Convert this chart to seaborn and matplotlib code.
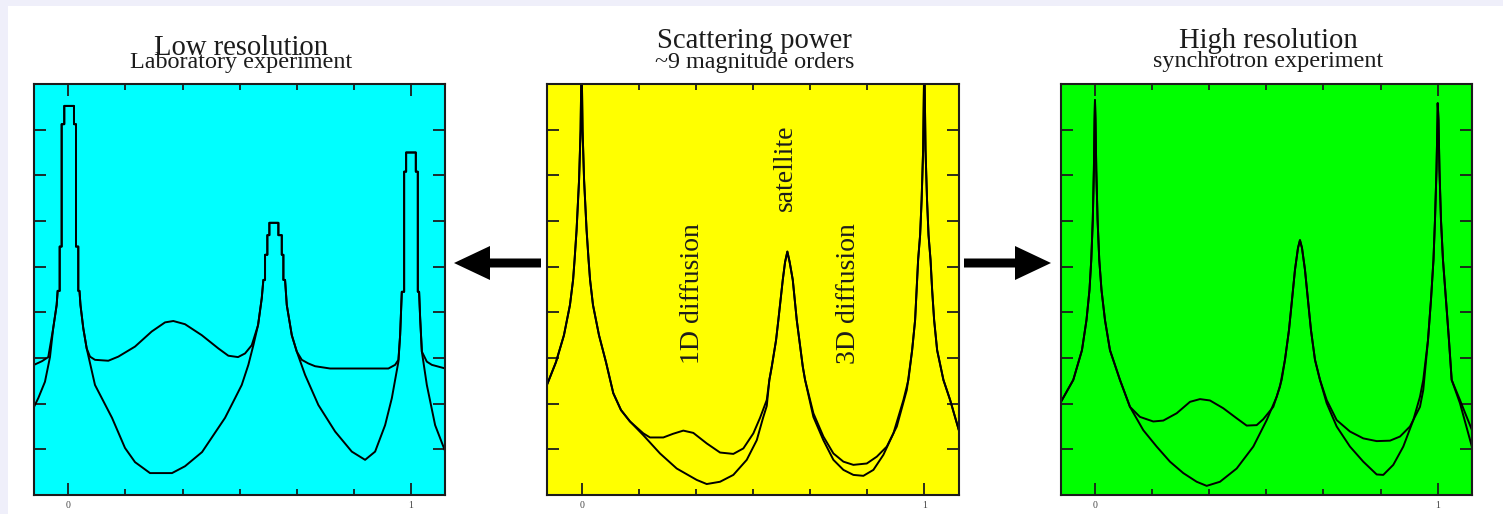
import numpy as np
import matplotlib
matplotlib.use("Agg")
import matplotlib.pyplot as plt
from matplotlib.patches import FancyArrow, Rectangle
import seaborn as sns

# ---------------------------------------------------------------------------
# Diffraction profiles along one reciprocal-lattice row (x in r.l.u.),
# intensity given as log10 (0 .. 9 decades shown).
# Each profile is assembled from shared Bragg / satellite segments and the
# diffuse (upper) or purely structural (lower) background in between.
# ---------------------------------------------------------------------------

# ---- Low resolution (laboratory) ----
lo_wing_left_up_x = [-0.100, -0.0768, -0.0584]
lo_wing_left_up_y = [2.85, 2.93, 3.02]
lo_wing_left_lo_x = [-0.100, -0.0876, -0.0680, -0.0534]
lo_wing_left_lo_y = [1.93, 2.12, 2.48, 3.02]
lo_bragg0_x = [-0.0438, -0.0339, -0.0310, -0.0251, -0.0251, -0.0193, -0.0193,
               -0.0117, -0.0117, 0.0166, 0.0166, 0.0225, 0.0225, 0.0292,
               0.0292, 0.0327, 0.0356, 0.0438, 0.0537]
lo_bragg0_y = [3.66, 4.16, 4.47, 4.47, 5.44, 5.44, 8.12, 8.12, 8.52, 8.52,
               8.12, 8.12, 5.44, 5.44, 4.47, 4.47, 4.16, 3.65, 3.21]
lo_diff1d_x = [0.0633, 0.0779, 0.1168, 0.1460, 0.1947, 0.2434, 0.2823, 0.3065,
               0.3406, 0.3894, 0.4378, 0.4670, 0.4953, 0.5158, 0.5353]
lo_diff1d_y = [3.03, 2.96, 2.94, 3.03, 3.25, 3.58, 3.78, 3.81, 3.74, 3.50,
               3.21, 3.05, 3.02, 3.10, 3.28]
lo_base_a_x = [0.0779, 0.1276, 0.1655, 0.1947, 0.2385, 0.3027, 0.3406, 0.3903,
               0.4574, 0.4866, 0.5061, 0.5254, 0.5400]
lo_base_a_y = [2.41, 1.69, 1.03, 0.72, 0.48, 0.48, 0.63, 0.94, 1.69, 2.12,
               2.41, 2.85, 3.28]
lo_sat_x = [0.5537, 0.5645, 0.5692, 0.5741, 0.5741, 0.5808, 0.5808, 0.5867,
            0.5867, 0.6130, 0.6130, 0.6229, 0.6229, 0.6276, 0.6276, 0.6325,
            0.6375, 0.6521, 0.6667]
lo_sat_y = [3.72, 4.31, 4.71, 4.71, 5.26, 5.26, 5.69, 5.69, 5.96, 5.96, 5.69,
            5.69, 5.26, 5.26, 4.71, 4.71, 4.16, 3.50, 3.14]
lo_diff3d_x = [0.6813, 0.7005, 0.7201, 0.7639, 0.9340, 0.9536, 0.9632]
lo_diff3d_y = [2.96, 2.88, 2.82, 2.77, 2.77, 2.85, 2.96]
lo_base_b_x = [0.6909, 0.7297, 0.7785, 0.8272, 0.8660, 0.8952, 0.9244, 0.9440,
               0.9632]
lo_base_b_y = [2.63, 1.97, 1.39, 0.95, 0.77, 0.95, 1.53, 2.12, 2.92]
lo_bragg1_x = [0.9682, 0.9731, 0.9799, 0.9799, 0.9857, 0.9857, 1.0140, 1.0140,
               1.0198, 1.0198, 1.0236, 1.0266, 1.0316]
lo_bragg1_y = [3.50, 4.45, 4.45, 7.08, 7.08, 7.50, 7.50, 7.08, 7.08, 4.45,
               4.45, 3.88, 3.14]
lo_wing_right_up_x = [1.0461, 1.0607, 1.100]
lo_wing_right_up_y = [2.92, 2.85, 2.77]
lo_wing_right_lo_x = [1.0461, 1.0703, 1.100]
lo_wing_right_lo_y = [2.41, 1.53, 0.95]

# ---- Scattering power (model) ----
mid_bragg0_x = [-0.100, -0.0747, -0.0514, -0.0339, -0.0248, -0.0204, -0.0146,
                -0.0073, -0.0029, 0.0, 0.0029, 0.0073, 0.0146, 0.0204, 0.0248,
                0.0333, 0.0508, 0.0712, 0.0925, 0.1150, 0.1413]
mid_bragg0_y = [2.43, 2.91, 3.50, 4.16, 4.71, 5.15, 5.80, 6.90, 7.99, 9.60,
                7.99, 6.90, 5.80, 5.15, 4.71, 4.16, 3.50, 2.91, 2.23, 1.86, 1.61]
mid_diff1d_x = [0.1801, 0.1996, 0.2385, 0.2668, 0.2968, 0.3260, 0.3651, 0.4040,
                0.4428, 0.4720, 0.5012, 0.5207, 0.5403]
mid_diff1d_y = [1.35, 1.26, 1.26, 1.34, 1.41, 1.36, 1.13, 0.93, 0.90, 1.02,
                1.35, 1.69, 2.08]
mid_base_a_x = [0.1801, 0.2288, 0.2776, 0.3360, 0.3651, 0.4040, 0.4428, 0.4819,
                0.5111, 0.5295, 0.5403]
mid_base_a_y = [1.31, 0.91, 0.58, 0.33, 0.24, 0.29, 0.44, 0.77, 1.20, 1.69, 1.95]
mid_sat_x = [0.5479, 0.5549, 0.5674, 0.5741, 0.5870, 0.5937, 0.6004, 0.6071,
             0.6162, 0.6278, 0.6354, 0.6454, 0.6521]
mid_sat_y = [2.52, 2.81, 3.39, 3.83, 4.71, 5.10, 5.33, 5.10, 4.71, 3.83, 3.39,
             2.81, 2.52]
mid_diff3d_x = [0.6763, 0.7055, 0.7347, 0.7639, 0.7930, 0.8322, 0.8614, 0.8905,
                0.9197, 0.9489]
mid_diff3d_y = [1.79, 1.28, 0.91, 0.73, 0.66, 0.69, 0.84, 1.06, 1.50, 2.30]
mid_base_b_x = [0.6763, 0.7055, 0.7347, 0.7639, 0.7930, 0.8222, 0.8514, 0.8806,
                0.9098, 0.9390, 0.9536]
mid_base_b_y = [1.71, 1.20, 0.77, 0.55, 0.44, 0.42, 0.55, 0.88, 1.35, 2.08, 2.52]
mid_bragg1_x = [0.9644, 0.9731, 0.9775, 0.9819, 0.9877, 0.9921, 0.9965, 1.0,
                1.0035, 1.0079, 1.0123, 1.0181, 1.0228, 1.0286, 1.0374, 1.0557,
                1.0753, 1.1007]
mid_bragg1_y = [3.17, 3.83, 4.49, 5.15, 5.69, 6.46, 7.55, 9.60, 7.55, 6.46,
                5.69, 5.15, 4.49, 3.83, 3.17, 2.52, 2.08, 1.42]

# ---- High resolution (synchrotron) ----
hi_bragg0_x = [-0.100, -0.0633, -0.0380, -0.0248, -0.0160, -0.0108, -0.0064,
               -0.0032, -0.0012, 0.0, 0.0015, 0.0038, 0.0076, 0.0125, 0.0190,
               0.0292, 0.0438, 0.0729, 0.1021]
hi_bragg0_y = [2.03, 2.52, 3.17, 3.83, 4.49, 5.15, 6.02, 7.12, 8.21, 8.65, 8.21,
               7.12, 6.02, 5.15, 4.49, 3.83, 3.17, 2.52, 1.93]
hi_diff1d_x = [0.1313, 0.1701, 0.1993, 0.2384, 0.2772, 0.3063, 0.3355, 0.3743,
               0.4134, 0.4426, 0.4718, 0.4910, 0.5202, 0.5397]
hi_diff1d_y = [1.71, 1.61, 1.63, 1.79, 2.04, 2.10, 2.07, 1.90, 1.68, 1.52, 1.53,
               1.66, 1.93, 2.37]
hi_base_a_x = [0.1409, 0.1800, 0.2188, 0.2576, 0.2967, 0.3259, 0.3647, 0.4134,
               0.4619, 0.5010, 0.5301, 0.5447]
hi_base_a_y = [1.42, 1.06, 0.73, 0.48, 0.29, 0.20, 0.29, 0.58, 1.06, 1.64, 2.15,
               2.52]
hi_sat_x = [0.5543, 0.5660, 0.5748, 0.5835, 0.5923, 0.5981, 0.6040, 0.6127,
            0.6214, 0.6302, 0.6419, 0.6565]
hi_sat_y = [2.96, 3.61, 4.27, 4.93, 5.41, 5.58, 5.41, 4.93, 4.27, 3.61, 2.96,
            2.52]
hi_diff3d_x = [0.6760, 0.7052, 0.7440, 0.7828, 0.8219, 0.8607, 0.8899, 0.9190,
               0.9482, 0.9578]
hi_diff3d_y = [2.08, 1.64, 1.39, 1.24, 1.18, 1.19, 1.28, 1.50, 1.93, 2.30]
hi_base_b_x = [0.6760, 0.7052, 0.7440, 0.7828, 0.8219, 0.8411, 0.8703, 0.8995,
               0.9287, 0.9482, 0.9578]
hi_base_b_y = [2.01, 1.50, 1.06, 0.73, 0.45, 0.44, 0.66, 1.06, 1.64, 2.15, 2.52]
hi_bragg1_x = [0.9716, 0.9803, 0.9876, 0.9920, 0.9964, 0.9993, 1.0, 1.0022,
               1.0051, 1.0095, 1.0153, 1.0241, 1.0328, 1.0407]
hi_bragg1_y = [3.39, 4.27, 5.15, 6.02, 7.12, 8.21, 8.58, 8.21, 7.12, 6.02, 5.15,
               4.27, 3.39, 2.52]
hi_wing_right_up_x = [1.0649, 1.0824, 1.100]
hi_wing_right_up_y = [2.08, 1.75, 1.42]
hi_wing_right_lo_x = [1.0649, 1.100]
hi_wing_right_lo_y = [2.01, 1.05]

# Panel headings and labels
titles = ["Low resolution", "Scattering power", "High resolution"]
subtitles = ["Laboratory experiment", "~9 magnitude orders", "synchrotron experiment"]
panel_colors = ["#00FFFF", "#FFFF00", "#00FF00"]
xtick_major = [0, 1]
xtick_labels = ["0", "1"]
xtick_minor = [1 / 6, 2 / 6, 3 / 6, 4 / 6, 5 / 6]
ytick_pos = [1, 2, 3, 4, 5, 6, 7, 8]
mid_labels = ["1D diffusion", "satellite", "3D diffusion"]
mid_label_x = [0.325, 0.596, 0.7775]
mid_label_y = [4.42, 7.16, 4.42]


def join(*segs):
    xs, ys = [], []
    for sx, sy in segs:
        xs += list(sx)
        ys += list(sy)
    return np.array(xs), np.array(ys)


lo_upper = join((lo_wing_left_up_x, lo_wing_left_up_y), (lo_bragg0_x, lo_bragg0_y),
                (lo_diff1d_x, lo_diff1d_y), (lo_sat_x, lo_sat_y),
                (lo_diff3d_x, lo_diff3d_y), (lo_bragg1_x, lo_bragg1_y),
                (lo_wing_right_up_x, lo_wing_right_up_y))
lo_lower = join((lo_wing_left_lo_x, lo_wing_left_lo_y), (lo_bragg0_x, lo_bragg0_y),
                (lo_base_a_x, lo_base_a_y), (lo_sat_x, lo_sat_y),
                (lo_base_b_x, lo_base_b_y), (lo_bragg1_x, lo_bragg1_y),
                (lo_wing_right_lo_x, lo_wing_right_lo_y))
mid_upper = join((mid_bragg0_x, mid_bragg0_y), (mid_diff1d_x, mid_diff1d_y),
                 (mid_sat_x, mid_sat_y), (mid_diff3d_x, mid_diff3d_y),
                 (mid_bragg1_x, mid_bragg1_y))
mid_lower = join((mid_bragg0_x, mid_bragg0_y), (mid_base_a_x, mid_base_a_y),
                 (mid_sat_x, mid_sat_y), (mid_base_b_x, mid_base_b_y),
                 (mid_bragg1_x, mid_bragg1_y))
hi_upper = join((hi_bragg0_x, hi_bragg0_y), (hi_diff1d_x, hi_diff1d_y),
                (hi_sat_x, hi_sat_y), (hi_diff3d_x, hi_diff3d_y),
                (hi_bragg1_x, hi_bragg1_y), (hi_wing_right_up_x, hi_wing_right_up_y))
hi_lower = join((hi_bragg0_x, hi_bragg0_y), (hi_base_a_x, hi_base_a_y),
                (hi_sat_x, hi_sat_y), (hi_base_b_x, hi_base_b_y),
                (hi_bragg1_x, hi_bragg1_y), (hi_wing_right_lo_x, hi_wing_right_lo_y))

profiles = [(lo_upper, lo_lower), (mid_upper, mid_lower), (hi_upper, hi_lower)]

# ---------------------------------------------------------------------------
sns.set_theme(style="ticks")
plt.rcParams["font.family"] = ["Liberation Serif", "DejaVu Serif"]

W, H = 1503, 514
fig = plt.figure(figsize=(W / 100, H / 100), dpi=100)
fig.patch.set_facecolor("#EFEFFA")
fig.add_artist(Rectangle((0.08, 0), W / 100 - 0.08, (H - 6) / 100,
                         transform=fig.dpi_scale_trans, facecolor="white",
                         edgecolor="none", zorder=-10))

ax_left = [34, 547.3, 1060.7]
ax_w, ax_bottom, ax_h = 411.3, 19, 411
axes = [fig.add_axes([l / W, ax_bottom / H, ax_w / W, ax_h / H]) for l in ax_left]

ink = "#1c1c1c"
for ax, (up, lo), col in zip(axes, profiles, panel_colors):
    ax.set_facecolor(col)
    sns.lineplot(x=lo[0], y=lo[1], ax=ax, color="black", lw=1.4,
                 sort=False, estimator=None)
    sns.lineplot(x=up[0], y=up[1], ax=ax, color="black", lw=1.4,
                 sort=False, estimator=None)
    ax.set_xlim(-0.1, 1.1)
    ax.set_ylim(0, 9)
    ax.set_xticks(xtick_major)
    ax.set_xticklabels(xtick_labels)
    ax.set_xticks(xtick_minor, minor=True)
    ax.set_yticks(ytick_pos)
    ax.set_yticklabels([])
    ax.set_xlabel("")
    ax.set_ylabel("")
    ax.tick_params(which="both", direction="in", top=True, right=True,
                   bottom=True, left=True, width=1.3, color=ink,
                   labelsize=7, labelcolor="#444444", pad=4)
    ax.tick_params(axis="x", which="major", length=8.5)
    ax.tick_params(axis="x", which="minor", length=4.3)
    ax.tick_params(axis="y", which="major", length=8.8)
    for s in ax.spines.values():
        s.set_linewidth(1.5)
        s.set_color(ink)
        s.set_visible(True)

# labels inside the model panel
for txt, lx, ly in zip(mid_labels, mid_label_x, mid_label_y):
    axes[1].text(lx, ly, txt, rotation=90, ha="center", va="center",
                 fontsize=20, color=ink)

# headings
title_x = [241, 754.5, 1268.3]
title_base = [55, 48, 48]
sub_base = [68, 68, 66.7]
for t, s, tx, tb, sb in zip(titles, subtitles, title_x, title_base, sub_base):
    fig.text(tx / W, 1 - tb / H, t, ha="center", va="baseline",
             fontsize=20.6, color=ink)
    fig.text(tx / W, 1 - sb / H, s, ha="center", va="baseline",
             fontsize=17.4, color=ink)

# arrows from the model panel to the two experiments
ay = (H - 263) / 100
for x0, dx in [(5.41, -0.87), (9.64, 0.87)]:
    fig.add_artist(FancyArrow(x0, ay, dx, 0, width=0.09, head_width=0.34,
                              head_length=0.36, length_includes_head=True,
                              transform=fig.dpi_scale_trans, color="black",
                              lw=0))

fig.savefig("out.png", dpi=100)
